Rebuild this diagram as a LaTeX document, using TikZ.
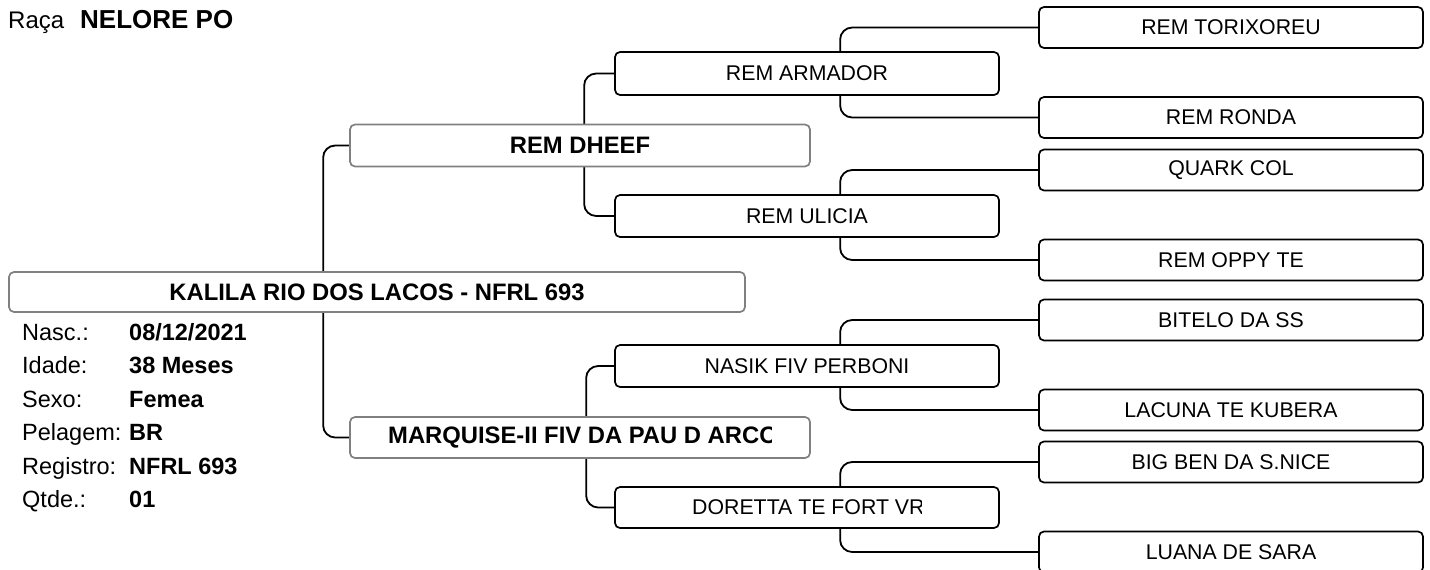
\documentclass[tikz,border=0pt]{standalone}
\usepackage{fontspec}
\setmainfont{Liberation Sans}
\usetikzlibrary{backgrounds}
\tikzset{
  g3/.style={draw=black, line width=1.7pt, rounded corners=5pt, fill=white,
    minimum width=384pt, minimum height=41pt, inner sep=0pt,
    font=\fontsize{21.3}{24}\selectfont},
  g2/.style={g3, minimum height=42pt},
  g1/.style={draw=black!50, line width=1.7pt, rounded corners=5pt, fill=white,
    minimum width=460pt, minimum height=42pt, inner sep=0pt,
    font=\bfseries\fontsize{23.8}{26}\selectfont},
  mainbox/.style={g1, minimum width=736pt, minimum height=40pt},
  conn/.style={line width=1.8pt, rounded corners=12pt},
  lbl/.style={anchor=base west, inner sep=0pt, font=\fontsize{23.5}{26}\selectfont},
  val/.style={anchor=base west, inner sep=0pt, font=\bfseries\fontsize{23.5}{26}\selectfont},
  cliptxt/.style={anchor=west, inner sep=0pt},
}
\begin{document}
\begin{tikzpicture}[x=1pt, y=-1pt]
\useasboundingbox (0,0) rectangle (1430,570);

% header
\node[lbl, font=\fontsize{24}{26}\selectfont] (raca) at (8,28) {Raça};
\node[val, font=\bfseries\fontsize{26}{28}\selectfont] (raca val) at (80,28) {NELORE PO};

% main animal
\node[mainbox] (main) at (377,292) {KALILA RIO DOS LACOS - NFRL 693};

% info
\node[lbl] (l1) at (22,340) {Nasc.:};     \node[val] (v1) at (129,340) {08/12/2021};
\node[lbl] (l2) at (22,373.5) {Idade:};   \node[val] (v2) at (129,373.5) {38 Meses};
\node[lbl] (l3) at (22,407) {Sexo:};      \node[val] (v3) at (129,407) {Femea};
\node[lbl] (l4) at (22,440.5) {Pelagem:}; \node[val] (v4) at (129,440.5) {BR};
\node[lbl] (l5) at (22,474) {Registro:};  \node[val] (v5) at (129,474) {NFRL 693};
\node[lbl] (l6) at (22,507.5) {Qtde.:};   \node[val] (v6) at (129,507.5) {01};

% generation 1
\node[g1] (dhe) at (580,145.5) {REM DHEEF};
\node[g1, minimum height=41pt] (mar) at (580,437.5) {};
\begin{scope}
  \clip (351,400) rectangle (771,475);
  \node[cliptxt, font=\bfseries\fontsize{23.8}{26}\selectfont] (martxt) at (388,437.5) {MARQUISE-II FIV DA PAU D ARCO};
\end{scope}

% generation 2
\node[g2, minimum height=43pt] (arm) at (807,73.5) {REM ARMADOR};
\node[g2] (uli) at (807,216) {REM ULICIA};
\node[g2] (nas) at (807,366) {NASIK FIV PERBONI};
\node[g2, minimum height=41pt] (dor) at (807,507.5) {};
\begin{scope}
  \clip (615,480) rectangle (921,535);
  \node[cliptxt, font=\fontsize{21.3}{24}\selectfont] (dortxt) at (692,507.5) {DORETTA TE FORT VR};
\end{scope}

% generation 3
\node[g3] (tor) at (1231,27.5) {REM TORIXOREU};
\node[g3] (ron) at (1231,117.5) {REM RONDA};
\node[g3] (qua) at (1231,170) {QUARK COL};
\node[g3] (opp) at (1231,260) {REM OPPY TE};
\node[g3] (bit) at (1231,320) {BITELO DA SS};
\node[g3] (lac) at (1231,410) {LACUNA TE KUBERA};
\node[g3] (big) at (1231,462) {BIG BEN DA S.NICE};
\node[g3] (lua) at (1231,552) {LUANA DE SARA};

% connectors (behind the boxes)
\begin{scope}[on background layer]
  \fill[white] (0,0) rectangle (1430,570);
  \draw[conn] (dhe.west) -- ++(-26,0) |- (mar.west);
  \draw[conn] (arm.west) -- ++(-30,0) |- (uli.west);
  \draw[conn] (nas.west) -- ++(-28,0) |- (dor.west);
  \draw[conn] (tor.west) -- ++(-198,0) |- (ron.west);
  \draw[conn] (qua.west) -- ++(-198,0) |- (opp.west);
  \draw[conn] (bit.west) -- ++(-198,0) |- (lac.west);
  \draw[conn] (big.west) -- ++(-198,0) |- (lua.west);
\end{scope}
\end{tikzpicture}
\end{document}
